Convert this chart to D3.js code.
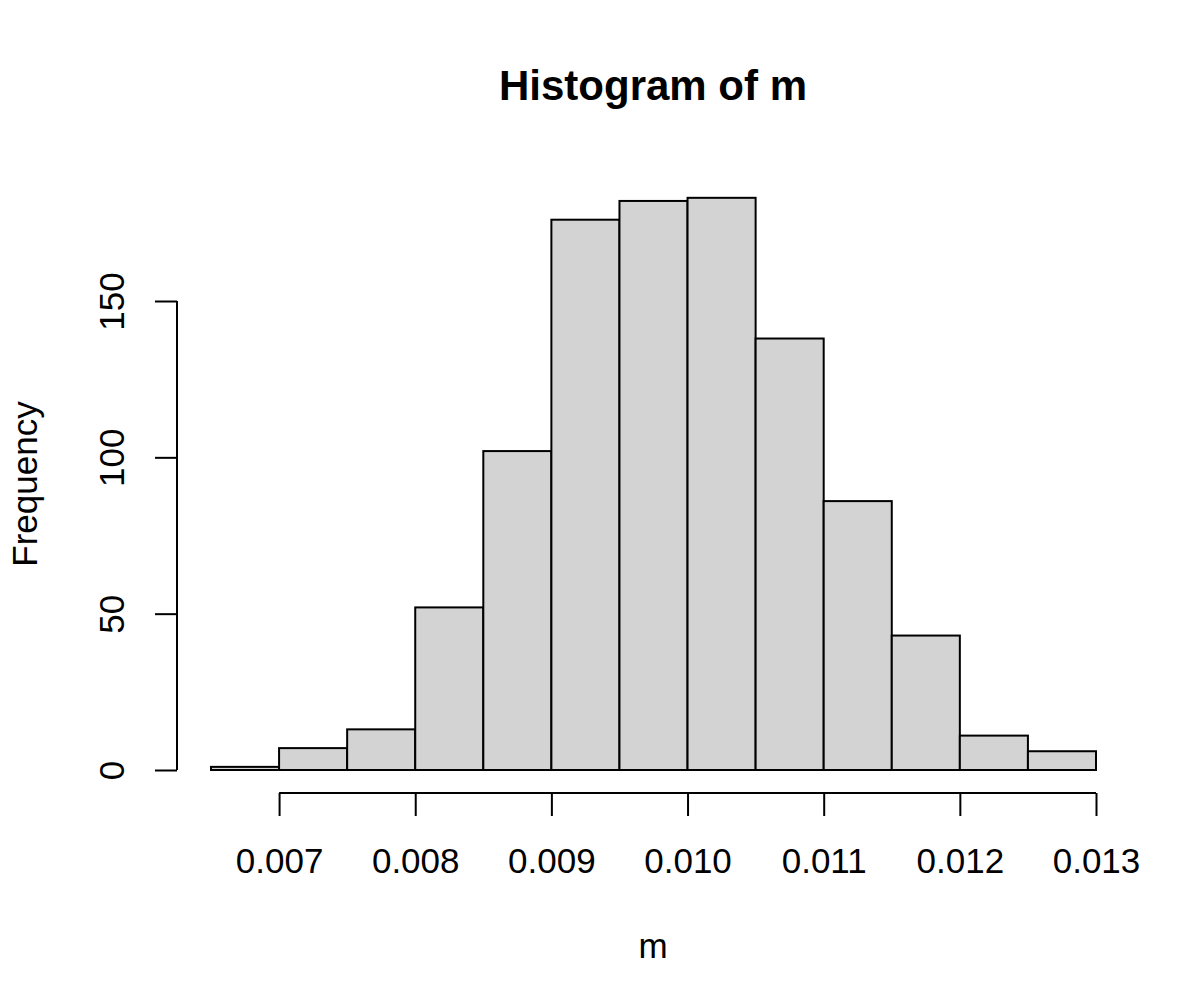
<!DOCTYPE html>
<html>
<head>
<meta charset="utf-8">
<script src="https://cdn.jsdelivr.net/npm/d3@7"></script>
<style>
  body { margin: 0; background: #fff; }
  text { font-family: "Liberation Sans", Arial, sans-serif; fill: #000; }
</style>
</head>
<body>
<div id="chart"></div>
<script>
// histogram bins (left edges) and counts
const binStarts = [0.0065, 0.007, 0.0075, 0.008, 0.0085, 0.009, 0.0095, 0.010, 0.0105, 0.011, 0.0115, 0.012, 0.0125];
const binWidth = 0.0005;
const counts = [1, 7, 13, 52, 102, 176, 182, 183, 138, 86, 43, 11, 6];
const xTicks = [0.007, 0.008, 0.009, 0.010, 0.011, 0.012, 0.013];
const yTicks = [0, 50, 100, 150];

const width = 1200, height = 986;
const svg = d3.select("#chart").append("svg")
  .attr("width", width)
  .attr("height", height);

// scales set so 0.0065..0.013 maps to 211..1096 and 0..150 to 770..301
const x = d3.scaleLinear().domain([0.0065, 0.013]).range([211, 1096]);
const y = d3.scaleLinear().domain([0, 150]).range([770, 301]);

svg.selectAll("rect.bar")
  .data(counts)
  .enter().append("rect")
  .attr("class", "bar")
  .attr("x", (d, i) => x(binStarts[i]))
  .attr("y", d => y(d))
  .attr("width", (d, i) => x(binStarts[i] + binWidth) - x(binStarts[i]))
  .attr("height", d => y(0) - y(d))
  .attr("fill", "#d3d3d3")
  .attr("stroke", "#000")
  .style("stroke-width", "2px");

// x axis, R style: line from first to last tick, below plot
const xAxis = d3.axisBottom(x)
  .tickValues(xTicks)
  .tickFormat(d3.format(".3f"))
  .tickSize(23)
  .tickPadding(32);
const gx = svg.append("g")
  .attr("transform", "translate(0,793)")
  .call(xAxis);
gx.select(".domain").remove();
gx.append("line")
  .attr("x1", x(xTicks[0])).attr("x2", x(xTicks[xTicks.length - 1]))
  .attr("stroke", "#000").style("stroke-width", "2px");
gx.selectAll(".tick line").attr("stroke", "#000").style("stroke-width", "2px");
gx.selectAll(".tick text")
  .style("font-size", "35px")
  .style("font-family", "'Liberation Sans', Arial, sans-serif")
  .attr("fill", "#000");

// y axis
const yAxis = d3.axisLeft(y)
  .tickValues(yTicks)
  .tickSize(22);
const gy = svg.append("g")
  .attr("transform", "translate(177,0)")
  .call(yAxis);
gy.select(".domain").remove();
gy.append("line")
  .attr("y1", y(yTicks[0])).attr("y2", y(yTicks[yTicks.length - 1]))
  .attr("stroke", "#000").style("stroke-width", "2px");
gy.selectAll(".tick line").attr("stroke", "#000").style("stroke-width", "2px");
gy.selectAll(".tick text")
  .attr("x", 0).attr("dy", 0)
  .attr("transform", "translate(-53,0) rotate(-90)")
  .attr("text-anchor", "middle")
  .style("font-size", "35px")
  .style("font-family", "'Liberation Sans', Arial, sans-serif")
  .attr("fill", "#000");

// title and axis labels
svg.append("text")
  .attr("x", 653).attr("y", 100)
  .attr("text-anchor", "middle")
  .style("font-size", "42px")
  .style("font-weight", "bold")
  .text("Histogram of m");

svg.append("text")
  .attr("x", 653).attr("y", 958)
  .attr("text-anchor", "middle")
  .style("font-size", "35px")
  .text("m");

svg.append("text")
  .attr("transform", "translate(37,484) rotate(-90)")
  .attr("text-anchor", "middle")
  .style("font-size", "35px")
  .text("Frequency");
</script>
</body>
</html>
